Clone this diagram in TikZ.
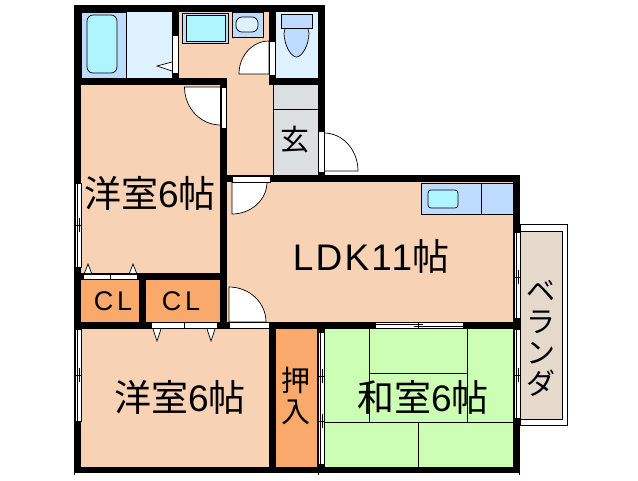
\documentclass[tikz,border=0pt]{standalone}
\usepackage{fontspec}
\setmainfont{Liberation Sans}
\newfontfamily\jpfont{Noto Sans CJK JP}
\newfontfamily\latnfont[LetterSpace=6]{Liberation Sans}
\newfontfamily\widefont[LetterSpace=14]{Liberation Sans}
\definecolor{roomc}{HTML}{F7D2B5}
\definecolor{clc}{HTML}{F8A96B}
\definecolor{matc}{HTML}{CCFFB3}
\definecolor{palec}{HTML}{DEF1FF}
\definecolor{bluec}{HTML}{BDDCFF}
\definecolor{cyanc}{HTML}{AEF5FF}
\definecolor{grayc}{HTML}{DCDFE0}
\definecolor{vernc}{HTML}{E5D9CC}
\tikzset{
	wall/.style={fill=black},
	thinl/.style={draw=black, line width=.7pt},
	fix/.style={thinl, rounded corners=3pt},
	doorw/.style={thinl, fill=white},
	big/.style={inner sep=0pt, font=\jpfont\fontsize{37}{37}\selectfont},
	mid/.style={inner sep=0pt, align=center, font=\jpfont\fontsize{29}{31}\selectfont},
	small/.style={inner sep=0pt, font=\widefont\fontsize{27}{27}\selectfont}
}
\begin{document}
\begin{tikzpicture}[x=1pt, y=-1pt]
	\useasboundingbox (0,0) rectangle (638,480);
	% floors
	\fill[roomc] (81,85) rectangle (227,280);
	\fill[roomc] (179,12) rectangle (273,85);
	\fill[roomc] (227,78) rectangle (273,182);
	\fill[roomc] (227,182) rectangle (513,322);
	\fill[roomc] (81,329) rectangle (269,467);
	\fill[palec] (81,12) rectangle (172,78);
	\fill[palec] (276,12) rectangle (318,78);
	\fill[grayc] (273,85) rectangle (318,175);
	\fill[clc] (81,280) rectangle (139,322);
	\fill[clc] (146,280) rectangle (220,322);
	\fill[clc] (276,329) rectangle (317,467);
	\fill[matc] (325,329) rectangle (513,467);
	% balcony
	\draw[thinl, fill=white] (520,224) rectangle (567,425);
	\draw[thinl, fill=vernc] (520,231) rectangle (562,419);
	% bath
	\draw[thinl, fill=bluec] (81,12) rectangle (126,78);
	\draw[fix, fill=cyanc, rounded corners=6pt] (87,15) rectangle (117,73);
	\draw[thinl, fill=white] (172,62) -- (157,66) -- (172,71);
	% wash
	\draw[thinl, fill=bluec] (182,13) rectangle (228,43);
	\draw[thinl, fill=cyanc] (186,15) rectangle (225,41);
	\draw[thinl, fill=bluec] (232,12) rectangle (263,37);
	\draw[fix, fill=palec, rounded corners=6pt] (236,17) rectangle (258,32);
	% toilet
	\draw[thinl, fill=bluec] (284,33) .. controls (284,20) and (309,20) .. (309,33)
		.. controls (309,45) and (302,57) .. (296.5,57) .. controls (291,57) and (284,45) .. (284,33);
	\draw[thinl, fill=bluec] (281,14) rectangle (312,28);
	% entrance
	\draw[thinl] (273,109) -- (318,109);
	\draw[thinl] (273,85) -- (273,175);
	% kitchen
	\draw[thinl, fill=bluec] (421,183) rectangle (513,214);
	\draw[thinl] (481,183) -- (481,214);
	\draw[fix, fill=cyanc] (428,190) rectangle (458,208);
	% tatami
	\draw[thinl] (369,329) -- (369,422);
	\draw[thinl] (467,329) -- (467,422);
	\draw[thinl] (369,373) -- (467,373);
	\draw[thinl] (325,422) -- (513,422);
	\draw[thinl] (418,422) -- (418,467);
	% walls
	\fill[wall] (74,5) rectangle (325,12);
	\fill[wall] (74,5) rectangle (81,473);
	\fill[wall] (74,467) rectangle (520,473);
	\fill[wall] (172,12) rectangle (179,85);
	\fill[wall] (74,78) rectangle (227,85);
	\fill[wall] (269,12) rectangle (276,85);
	\fill[wall] (269,78) rectangle (325,85);
	\fill[wall] (318,12) rectangle (325,175);
	\fill[wall] (220,85) rectangle (227,329);
	\fill[wall] (227,175) rectangle (520,182);
	\fill[wall] (513,175) rectangle (520,473);
	\fill[wall] (74,273) rectangle (227,280);
	\fill[wall] (139,273) rectangle (146,329);
	\fill[wall] (74,322) rectangle (229,329);
	\fill[wall] (269,322) rectangle (520,329);
	\fill[wall] (269,322) rectangle (276,473);
	\fill[wall] (317,322) rectangle (325,473);
	\foreach \tx in {74,318,519}
		\draw[thinl] (\tx,473) -- (\tx,475);
	% door leaves
	\draw[doorw] (269,74) -- (269,41) arc (90:180:30pt and 33pt) -- cycle;
	\draw[doorw] (220.5,87) -- (220.5,125) arc (270:180:36pt and 38pt) -- cycle;
	\draw[doorw] (324,171) -- (324,133) arc (90:0:34pt and 38pt) -- cycle;
	\draw[doorw] (232,182) -- (267,182) arc (0:-90:35pt and 32pt) -- cycle;
	\draw[doorw] (229,322) -- (229,287) arc (90:0:37pt and 35pt) -- cycle;
	% door frames
	\draw[doorw] (172,35) rectangle (178,73);
	\draw[doorw] (269,41) rectangle (275,75);
	\draw[doorw] (221,87) rectangle (226,128);
	\draw[doorw] (318,131) rectangle (324,172);
	\draw[doorw] (232,176) rectangle (270,182);
	\draw[doorw] (229,322) rectangle (269,328);
	% closet doors
	\draw[doorw] (83,274) rectangle (137,279);
	\draw[doorw] (110,274) -- (110,279);
	\draw[doorw] (151,322) rectangle (217,328);
	\draw[doorw] (184,322) -- (184,328);
	\foreach \tx in {88,133}
		\draw[doorw] (\tx-3.5,273) -- (\tx,264) -- (\tx+3.5,273);
	\foreach \tx in {157,211}
		\draw[doorw] (\tx-4,329) -- (\tx,341) -- (\tx+4,329);
	% windows
	\foreach \wa/\wb/\wc in {75/183/267, 75/329/421, 318/332/464, 514/232/318, 514/329/418} {
		\draw[doorw] (\wa,\wb) rectangle (\wa+6,\wc);
		\draw[thinl] (\wa+2.5,\wb) -- (\wa+2.5,\wc);
	}
	\foreach \wa/\wd in {75/225, 75/375, 318/376, 318/421, 514/277, 514/375} {
		\draw[thinl] (\wa-1,\wd) -- (\wa+7,\wd);
		\draw[thinl] (\wa+4,\wd-7) -- (\wa+4,\wd+7);
	}
	\fill[wall] (369,322) rectangle (375,329);
	\fill[wall] (463,322) rectangle (469,329);
	\draw[doorw] (375,322) rectangle (463,328);
	\draw[thinl] (375,324) -- (423,324);
	\draw[thinl] (414,326) -- (463,326);
	\draw[thinl] (418,322) -- (418,328);
	% labels
	\node[big] (roomA) at (150,193) {洋室\latnfont 6\jpfont 帖};
	\node[big] (roomB) at (180,397) {洋室\latnfont 6\jpfont 帖};
	\node[big] (roomC) at (423,397) {和室\latnfont 6\jpfont 帖};
	\node[big] (roomD) at (371,256) {\latnfont LDK11\jpfont 帖};
	\node[mid] (entry) at (295,140) {玄};
	\node[mid] (shelf) at (296,396) {押\\入};
	\node[mid] (vern) at (541,338) {ベ\\ラ\\ン\\ダ};
	\node[small] (closetA) at (113,301) {CL};
	\node[small] (closetB) at (181,301) {CL};
\end{tikzpicture}
\end{document}
